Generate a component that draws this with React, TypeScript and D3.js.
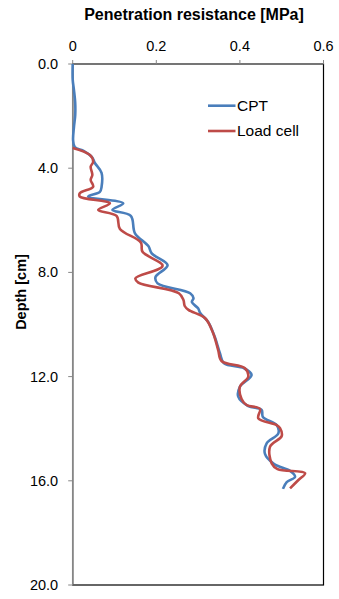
import * as d3 from "d3";
import React, { useEffect, useRef } from "react";

// CPT trace (depth in cm, resistance in MPa)
const cptDepth = [0, 0.6, 1.0, 1.5, 1.96, 2.42, 2.92, 3.19, 3.34, 3.57, 3.8, 4.18, 4.72, 4.91, 5.09, 5.35, 5.6, 5.83, 6.5, 6.99, 7.27, 7.72, 8.18, 8.42, 8.8, 8.99, 9.14, 9.38, 9.56, 9.9, 10.48, 11.09, 11.49, 11.68, 11.94, 12.39, 12.77, 13.13, 13.28, 13.55, 13.86, 14.18, 14.56, 14.97, 15.36, 15.62, 15.85, 16.05, 16.31];
const cptValue = [0, 0, 0.003, 0.006, 0.006, 0.003, 0.001, 0.005, 0.027, 0.046, 0.053, 0.069, 0.069, 0.065, 0.037, 0.121, 0.095, 0.139, 0.149, 0.181, 0.189, 0.227, 0.198, 0.203, 0.281, 0.289, 0.285, 0.3, 0.305, 0.324, 0.34, 0.352, 0.362, 0.41, 0.428, 0.4, 0.396, 0.42, 0.452, 0.455, 0.488, 0.492, 0.464, 0.46, 0.482, 0.52, 0.532, 0.512, 0.503];

// Load cell trace
const loadDepth = [3.22, 3.49, 3.75, 3.94, 4.26, 4.45, 4.71, 4.96, 5.09, 5.35, 5.6, 5.83, 6.33, 6.85, 7.21, 7.75, 8.23, 8.39, 8.8, 9.06, 9.29, 9.44, 9.76, 10.34, 10.98, 11.4, 11.68, 12.0, 12.39, 12.86, 13.09, 13.24, 13.6, 13.86, 13.98, 14.28, 14.69, 15.33, 15.55, 15.71, 15.97, 16.29];
const loadValue = [0, 0.041, 0.049, 0.043, 0.047, 0.043, 0.049, 0.017, 0.017, 0.089, 0.061, 0.105, 0.113, 0.163, 0.167, 0.215, 0.15, 0.157, 0.254, 0.265, 0.268, 0.277, 0.317, 0.336, 0.348, 0.356, 0.412, 0.42, 0.4, 0.404, 0.416, 0.448, 0.444, 0.488, 0.496, 0.5, 0.472, 0.476, 0.49, 0.556, 0.54, 0.52];

const xTicks = [0, 0.2, 0.4, 0.6];
const yTicks = [0, 4, 8, 12, 16, 20];

const seriesNames = ["CPT", "Load cell"];
const seriesColors = ["#4A7EBB", "#BE4B48"];

export default function App() {
  const svgRef = useRef<SVGSVGElement>(null);

  useEffect(() => {
    const svg = d3.select(svgRef.current);
    svg.selectAll("*").remove();

    const width = 339;
    const height = 599;
    const margin = { top: 64, right: 15.5, bottom: 14, left: 72.7 };
    const plotWidth = width - margin.left - margin.right;
    const plotHeight = height - margin.top - margin.bottom;
    const font = "Arial, 'Liberation Sans', sans-serif";

    const g = svg.append("g")
      .attr("transform", `translate(${margin.left},${margin.top})`);

    const xScale = d3.scaleLinear().domain([0, 0.6]).range([0, plotWidth]);
    const yScale = d3.scaleLinear().domain([0, 20]).range([0, plotHeight]);

    // Plot frame
    g.append("rect")
      .attr("width", plotWidth)
      .attr("height", plotHeight)
      .attr("fill", "#fff")
      .attr("stroke", "#000")
      .attr("stroke-width", 1.2);

    // Top axis
    g.append("line")
      .attr("x1", 0).attr("x2", plotWidth)
      .attr("y1", 0).attr("y2", 0)
      .attr("stroke", "#868686").attr("stroke-width", 1.2);
    xTicks.forEach(t => {
      g.append("line")
        .attr("x1", xScale(t)).attr("x2", xScale(t))
        .attr("y1", 0).attr("y2", -4)
        .attr("stroke", "#868686");
      g.append("text")
        .attr("x", xScale(t))
        .attr("y", -13.5)
        .attr("text-anchor", "middle")
        .style("font-family", font)
        .style("font-size", "14.5px")
        .text(t === 0 ? "0" : d3.format(".1f")(t));
    });

    // Left axis
    g.append("line")
      .attr("x1", 0).attr("x2", 0)
      .attr("y1", 0).attr("y2", plotHeight)
      .attr("stroke", "#868686").attr("stroke-width", 1.5);
    yTicks.forEach(t => {
      g.append("line")
        .attr("x1", -4.5).attr("x2", 0)
        .attr("y1", yScale(t)).attr("y2", yScale(t))
        .attr("stroke", "#868686");
      g.append("text")
        .attr("x", -14.5)
        .attr("y", yScale(t))
        .attr("dy", "0.35em")
        .attr("text-anchor", "end")
        .style("font-family", font)
        .style("font-size", "14.5px")
        .text(d3.format(".1f")(t));
    });

    // Axis titles
    svg.append("text")
      .attr("x", 194)
      .attr("y", 19.5)
      .attr("text-anchor", "middle")
      .style("font-family", font)
      .style("font-size", "16px")
      .style("font-weight", "bold")
      .text("Penetration resistance [MPa]");

    svg.append("text")
      .attr("transform", "rotate(-90)")
      .attr("x", -292)
      .attr("y", 26)
      .attr("text-anchor", "middle")
      .style("font-family", font)
      .style("font-size", "14.5px")
      .style("font-weight", "bold")
      .text("Depth [cm]");

    // Lines
    const line = d3.line<[number, number]>()
      .x(d => xScale(d[1]))
      .y(d => yScale(d[0]))
      .curve(d3.curveCatmullRom.alpha(0.5));

    const series = [
      d3.zip(cptDepth, cptValue) as [number, number][],
      d3.zip(loadDepth, loadValue) as [number, number][],
    ];

    series.forEach((data, i) => {
      g.append("path")
        .datum(data)
        .attr("fill", "none")
        .attr("stroke", seriesColors[i])
        .attr("stroke-width", 2.6)
        .attr("stroke-linejoin", "round")
        .attr("d", line);
    });

    // Legend
    seriesNames.forEach((name, i) => {
      const ly = 105.7 + i * 25.3;
      svg.append("line")
        .attr("x1", 208).attr("x2", 235.5)
        .attr("y1", ly).attr("y2", ly)
        .attr("stroke", seriesColors[i])
        .attr("stroke-width", 2.6);
      svg.append("text")
        .attr("x", 237)
        .attr("y", ly)
        .attr("dy", "0.35em")
        .style("font-family", font)
        .style("font-size", "15.5px")
        .text(name);
    });
  }, []);

  return (
    <div style={{ position: "absolute", left: 0, top: 0 }}>
      <svg ref={svgRef} width={339} height={599} style={{ display: "block", background: "#fff" }}></svg>
    </div>
  );
}
